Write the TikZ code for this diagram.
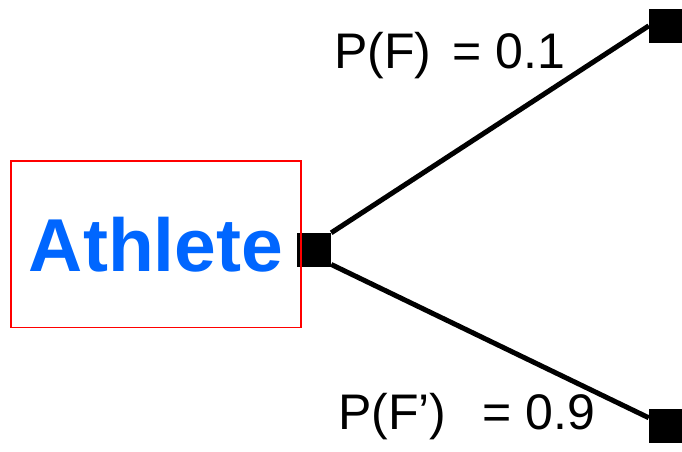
\documentclass[tikz,border=0pt]{standalone}
\usepackage{fontspec}
\setmainfont{Liberation Sans}
\usepackage{xcolor}
\usetikzlibrary{positioning}
\definecolor{athleteblue}{RGB}{0,102,255}

\begin{document}
\begin{tikzpicture}[x=1pt,y=-1pt,
  box/.style={draw=red,line width=1.5pt,minimum width=290pt,minimum height=166.7pt,inner sep=0pt,
    text=athleteblue,font=\fontsize{75}{80}\selectfont\bfseries},
  sq/.style={fill=black,minimum size=34pt,inner sep=0pt},
  prob/.style={anchor=base west,inner sep=0pt,font=\fontsize{50}{56}\selectfont},
  branch/.style={line width=5pt}]
  \useasboundingbox (0,0) rectangle (682,451);
  \node[sq](c) at (314,250){};
  \node[sq](up) at (666,25.8){};
  \node[sq](lo) at (666,425.8){};
  \node[box](athlete) at (156,244.3){Athlete};
  \draw[branch](c.north east)--(up.west);\draw[branch](c.-40)--(lo.155);
  \node[prob](pf) at (334,68){P(F)\hspace{0.15em} = 0.1};
  \node[prob](pfc) at (338,429){P(F’)\hspace{0.45em} = 0.9};
\end{tikzpicture}
\end{document}
